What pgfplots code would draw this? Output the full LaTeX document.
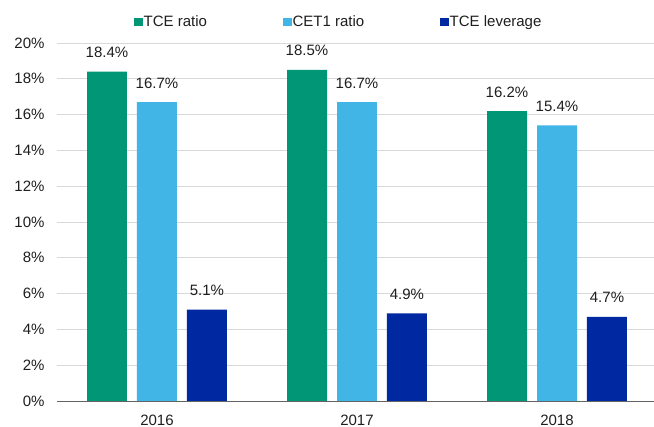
\documentclass[border=0pt]{standalone}
\usepackage{pgfplots}
\pgfplotsset{compat=1.18}
\usepackage{fontspec}
\setmainfont{Liberation Sans}
\definecolor{cgreen}{RGB}{0,150,118}
\definecolor{clblue}{RGB}{65,182,230}
\definecolor{cdblue}{RGB}{0,40,160}
\definecolor{ctext}{RGB}{30,30,30}
\definecolor{cgrid}{RGB}{217,217,217}
\definecolor{caxis}{RGB}{100,100,100}
\begin{document}
\begin{tikzpicture}[x=1pt,y=1pt]
\begin{axis}[
  scale only axis,
  width=597pt, height=358pt,
  xmin=-0.5, xmax=2.485,
  ymin=0, ymax=20,
  axis x line*=bottom, axis y line*=left,
  x axis line style={draw=caxis, line width=0.8pt},
  y axis line style={draw=none},
  ytick={0,2,...,20},
  yticklabel={\pgfmathprintnumber{\tick}\%},
  /pgf/number format/assume math mode=true,
  ytick style={draw=none},
  ymajorgrids, grid style={cgrid, line width=0.8pt},
  xtick={0,1,2}, xticklabels={2016,2017,2018},
  xtick style={draw=none},
  extra x ticks={-0.5,0.5,1.5,2.5},
  extra x tick labels={},
  extra x tick style={tick style={draw=caxis, line width=0.8pt}, major tick length=5pt, tick align=outside, grid=none},
  tick label style={font=\fontsize{15}{17}\selectfont, text=ctext},
  yticklabel style={xshift=-9pt},
  xticklabel style={anchor=base, inner sep=0pt, yshift=-20.5pt},
  ybar, bar width=40pt,
  nodes near coords={\pgfmathprintnumber[fixed,fixed zerofill,precision=1]{\pgfplotspointmeta}\%},
  nodes near coords style={font=\fontsize{15}{17}\selectfont, text=ctext, anchor=base, inner sep=0pt, yshift=14pt},
  legend columns=3,
  legend style={draw=none, fill=none, inner sep=0pt, at={(0.129,1.0585)}, anchor=west,
    font=\fontsize{15}{17}\selectfont, text=ctext,
    nodes={inner sep=1pt},
    /tikz/every even column/.append style={column sep=75pt}},
  legend image code/.code={\fill[#1] (0pt,-4pt) rectangle (8.5pt,4pt);},
  clip=false,
]
\addplot[fill=cgreen, draw=none, bar shift=-50pt] coordinates {(0,18.4) (1,18.5) (2,16.2)};
\addplot[fill=clblue, draw=none, bar shift=0pt] coordinates {(0,16.7) (1,16.7) (2,15.4)};
\addplot[fill=cdblue, draw=none, bar shift=50pt] coordinates {(0,5.1) (1,4.9) (2,4.7)};
\legend{TCE ratio, CET1 ratio, TCE leverage}
\end{axis}
\pgfresetboundingbox
\path (current axis.south west) ++(-57pt,-25.5pt) coordinate (bbA);
\path (current axis.north east) ++(0pt,43pt) coordinate (bbB);
\path[use as bounding box] (bbA) rectangle (bbB);
\end{tikzpicture}
\end{document}
